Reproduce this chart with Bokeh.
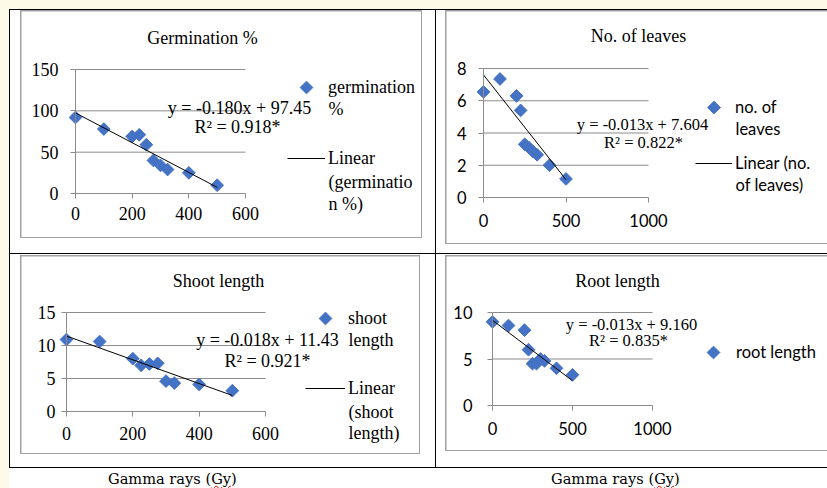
import numpy as np
from bokeh.plotting import figure
from bokeh.models import Range1d, FixedTicker, Label, Legend, LegendItem, Column, Row, Div
from bokeh.core.properties import value
from bokeh.embed import file_html
from bokeh.resources import INLINE

# ---------------- data ----------------
dose = [0, 100, 200, 225, 250, 275, 300, 325, 400, 500]
germination = [92, 78, 69, 71, 59, 40, 34, 29, 25, 10]
leaves = [6.55, 7.35, 6.3, 5.4, 3.3, 3.1, 2.85, 2.65, 2.0, 1.15]
shoot = [10.9, 10.6, 8.0, 7.0, 7.2, 7.3, 4.6, 4.3, 4.1, 3.15]
root_len = [9.0, 8.6, 8.1, 6.0, 4.5, 4.5, 5.0, 4.8, 4.0, 3.3]

titles = ["Germination %", "No. of leaves", "Shoot length", "Root length"]
series_labels = [["germination", "%"], ["no. of", "leaves"], ["shoot", "length"], ["root length"]]
trend_labels = [["Linear", "(germinatio", "n %)"], ["Linear (no.", "of leaves)"],
                ["Linear", "(shoot", "length)"], None]
slopes = [-0.180, -0.013, -0.018, -0.013]
intercepts = [97.45, 7.604, 11.43, 9.160]
eq_text = ["y = -0.180x + 97.45", "y = -0.013x + 7.604", "y = -0.018x + 11.43", "y = -0.013x + 9.160"]
r2_text = ["R\u00b2 = 0.918*", "R\u00b2 = 0.822*", "R\u00b2 = 0.921*", "R\u00b2 = 0.835*"]
x_ticks = [[0, 200, 400, 600], [0, 500, 1000], [0, 200, 400, 600], [0, 500, 1000]]
y_ticks = [[0, 50, 100, 150], [0, 2, 4, 6, 8], [0, 5, 10, 15], [0, 5, 10]]
x_axis_label = "Gamma rays (Gy)"
series = [germination, leaves, shoot, root_len]

# ---------------- style / layout ----------------
SERIF = "Liberation Serif"
SANS = "Lato"
BLUE = "#4472C4"
AXIS = "#8c8c8c"
GRID = "#8c8c8c"
BOXC = "#a0a0a0"
CREAM = "#fefae8"
TICK = 5
MSIZE = 9

PANELS = [
    dict(origin=(21, 11), size=(400, 226), frame=(75, 245, 69, 193), fig_m=(1, 1, 1, 1), gray_m=(0, 13, 15, 10),
         tf=SERIF, ts="18px", lf=SERIF, ls="18px", es="18px", xso=8, ylab_r=58,
         title=(202, 37), eq=[(239, 107), (237, 126)], glyph=(287, 325), text_x=328,
         items_y=[[87, 108], [158, 181, 203]]),
    dict(origin=(446, 11), size=(383, 232), frame=(483, 648, 68, 197), fig_m=(1, 0, 1, 1), gray_m=(0, 0, 9, 9),
         tf=SANS, ts="16.5px", lf=SANS, ls="16.5px", es="16.5px", xso=11, ylab_r=466,
         title=(638, 35), eq=[(642, 124), (643, 142)], glyph=(695, 732), text_x=735,
         items_y=[[107, 128], [163, 184]]),
    dict(origin=(21, 256), size=(398, 197), frame=(66, 265, 312, 411), fig_m=(1, 1, 1, 1), gray_m=(1, 15, 13, 10),
         tf=SERIF, ts="18px", lf=SERIF, ls="18px", es="18px", xso=10, ylab_r=55,
         title=(218, 280), eq=[(267, 339), (267, 360)], glyph=(305, 345), text_x=348,
         items_y=[[318, 339], [388, 411, 432]]),
    dict(origin=(446, 256), size=(383, 194), frame=(492, 652, 312, 405), fig_m=(1, 0, 1, 1), gray_m=(1, 0, 16, 9),
         tf=SANS, ts="16.5px", lf=SANS, ls="16.5px", es="16.5px", xso=11, ylab_r=472,
         title=(617, 280), eq=[(631, 324), (628, 340)], glyph=(695, 731), text_x=736,
         items_y=[[352]]),
]


def build(i):
    c = PANELS[i]
    ox, oy = c["origin"]
    w, h = c["size"]
    fx0, fx1, fy0, fy1 = c["frame"]
    xmax, ymax = x_ticks[i][-1], y_ticks[i][-1]
    kx = (fx1 - fx0) / xmax          # px per data unit
    ky = (fy1 - fy0) / ymax
    # the whole figure is the plot frame; the axes sit at x = 0 / y = 0
    x_rng = Range1d(-(fx0 - ox) / kx, (ox + w - fx0) / kx)
    y_rng = Range1d(-(oy + h - fy1) / ky, (fy1 - oy) / ky)

    p = figure(width=w, height=h, x_range=x_rng, y_range=y_rng,
               output_backend="svg", toolbar_location=None, title=None,
               min_border_left=0, min_border_right=0, min_border_top=0, min_border_bottom=0,
               background_fill_color="white", border_fill_color="white", outline_line_color=None,
               margin=c["fig_m"])
    p.grid.visible = False

    xa = p.xaxis[0]
    ya = p.yaxis[0]
    xa.ticker = FixedTicker(ticks=x_ticks[i])
    ya.ticker = FixedTicker(ticks=y_ticks[i])
    xa.bounds = (0, xmax)
    ya.bounds = (0, ymax)
    xa.fixed_location = 0
    ya.fixed_location = 0
    xa.major_label_standoff = c["xso"]
    ya.major_label_standoff = fx0 - TICK - c["ylab_r"]
    for ax in (xa, ya):
        ax.major_tick_out = TICK
        ax.major_tick_in = 0
        ax.minor_tick_out = 0
        ax.minor_tick_in = 0
        ax.axis_line_color = AXIS
        ax.major_tick_line_color = AXIS
        ax.major_label_text_font = c["tf"]
        ax.major_label_text_font_size = c["ts"]
        ax.major_label_text_color = "black"

    # horizontal gridlines limited to the axis extent
    yt = y_ticks[i][1:]
    p.segment(x0=[0] * len(yt), y0=yt, x1=[xmax] * len(yt), y1=yt, line_color=GRID, line_width=1)

    sc = p.scatter(dose, series[i], marker="square", angle=np.pi / 4, size=MSIZE,
                   fill_color=BLUE, line_color=BLUE)
    xf = np.array([min(dose), max(dose)], dtype=float)
    ln = p.line(xf, intercepts[i] + slopes[i] * xf, line_color="black", line_width=1)

    def sxu(px):
        return px - ox

    def syu(py):
        return oy + h - py

    def lab(px, py, text, font, size, align="center"):
        p.add_layout(Label(x=sxu(px), y=syu(py), x_units="screen", y_units="screen", text=text,
                           text_font=font, text_font_size=size, text_align=align,
                           text_baseline="middle", text_color="black"))

    lab(*c["title"], titles[i], SERIF, "18px")
    lab(*c["eq"][0], eq_text[i], SERIF, c["es"])
    lab(*c["eq"][1], r2_text[i], SERIF, c["es"])

    # legend
    gx0, gx1 = c["glyph"]
    tx = c["text_x"]
    iy = c["items_y"]
    gh = 22
    n = len(iy)
    spacing = (iy[1][0] - iy[0][0] - gh) if n > 1 else 0
    H = gh * n + spacing * (n - 1)
    top = iy[0][0] - gh / 2
    # legend key for the series: a proxy renderer (the visible key is the rotated marker below)
    proxy = p.scatter(x=[], y=[], marker="square", size=MSIZE, fill_alpha=0, line_alpha=0)
    p.scatter(x=[(0.5 * (gx0 + gx1) - fx0) / kx], y=[(fy1 - iy[0][0]) / ky], marker="square",
              angle=np.pi / 4, size=MSIZE, fill_color=BLUE, line_color=BLUE)
    items = [LegendItem(label=value(series_labels[i][0]), renderers=[proxy])]
    texts = [series_labels[i]]
    if trend_labels[i] is not None:
        items.append(LegendItem(label=value(trend_labels[i][0]), renderers=[ln]))
        texts.append(trend_labels[i])
    leg = Legend(items=items, location=(sxu(gx0), syu(top + H)), orientation="vertical",
                 glyph_width=gx1 - gx0, glyph_height=gh, label_height=gh, label_width=10,
                 label_standoff=tx - gx1, spacing=spacing, padding=0, margin=0,
                 border_line_color=None, background_fill_alpha=0,
                 label_text_font=c["lf"], label_text_font_size=c["ls"], label_text_color="black")
    p.add_layout(leg)
    for lines, ys in zip(texts, iy):
        for t, yy in zip(lines[1:], ys[1:]):
            lab(tx, yy, t, c["lf"], c["ls"], align="left")
    return p


cells = []
for i in range(4):
    fig = build(i)
    g = Column(children=[fig], margin=PANELS[i]["gray_m"], styles={"background-color": BOXC})
    cells.append(Column(children=[g], margin=(1, 0, 0, 1), styles={"background-color": "white"}))

row1 = Row(children=[cells[0], cells[1]])
row2 = Row(children=[cells[2], cells[3]])

lab_html = ('<div style="font-family:\'DejaVu Serif\';font-size:14.6px;line-height:17px;white-space:nowrap;'
            'padding-top:2px;color:#000">'
            + x_axis_label.replace("Gy", '<span style="text-decoration:underline wavy #d00;'
                                         'text-decoration-thickness:1px">Gy</span>') + '</div>')
d1 = Div(text=lab_html, width=170, height=20, margin=(0, 0, 0, 99))
d2 = Div(text=lab_html, width=278, height=20, margin=(0, 0, 0, 273))
row3 = Row(children=[d1, d2], margin=(1, 0, 0, 0), styles={"background-color": "white"})

table = Column(children=[row1, row2, row3], margin=(9, 0, 0, 9), styles={"background-color": "black"})
root = Column(children=[table], width=827, height=488,
              styles={"background-color": CREAM, "overflow": "hidden"})

open("out.html", "w").write(file_html(root, INLINE))
